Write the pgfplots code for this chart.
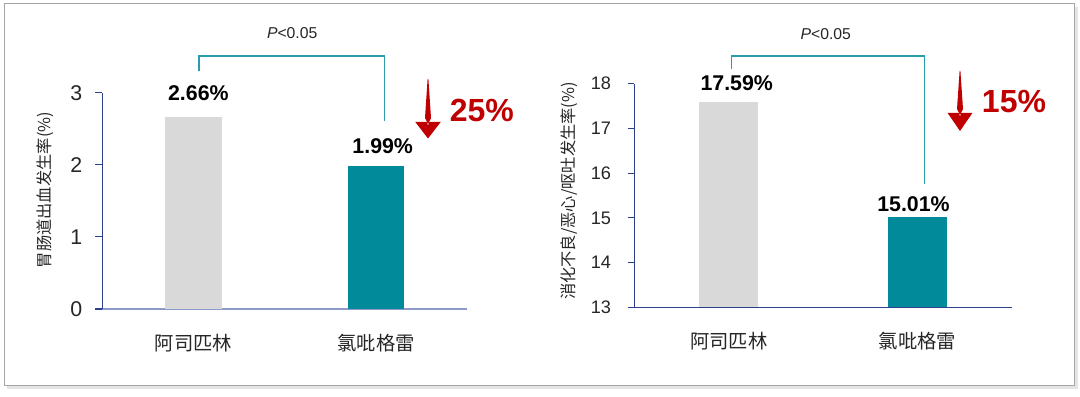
\documentclass[border=0pt]{standalone}
\usepackage{fontspec}
\setmainfont{Liberation Sans}
\newfontfamily\cjk{Noto Sans CJK SC}
\usepackage{pgfplots}
\pgfplotsset{compat=1.18}
\definecolor{barteal}{HTML}{008A9A}
\definecolor{bargray}{HTML}{D9D9D9}
\definecolor{brk}{HTML}{2A9DAA}
\definecolor{redA}{HTML}{C00000}
\definecolor{navyA}{HTML}{2F3F8F}
\definecolor{lavA}{HTML}{8E9AC8}
\definecolor{txt}{HTML}{262626}
\begin{document}
\begin{tikzpicture}[x=0.75pt,y=0.75pt]
\path[use as bounding box] (0,0) rectangle (1080,396);
\begin{scope}[y=-0.75pt, yshift=297pt]
\fill[black!10] (7,7) rectangle (1078,389);
\draw[fill=white, draw=black!35, line width=0.75pt] (4,4) rectangle (1074,385);
\end{scope}

% ---------- panel 1 ----------
\begin{axis}[
  at={(76.725pt,65.25pt)}, anchor=south west,
  scale only axis, width=273.75pt, height=162.2pt,
  xmin=-0.5, xmax=1.5, ymin=0, ymax=3,
  clip=false,
  axis x line*=bottom, axis y line*=left,
  x axis line style={-, draw=lavA, line width=1pt},
  y axis line style={-, draw=navyA, line width=0.8pt},
  xtick={0,1}, xticklabels={阿司匹林,氯吡格雷},
  xtick style={draw=none},
  xticklabel style={font=\cjk\fontsize{14.5}{16}\selectfont, text=txt, yshift=-10pt},
  ytick={0,1,2,3},
  ytick style={draw=navyA, line width=0.8pt},
  tick align=outside, major tick length=5.5pt,
  yticklabel style={font=\fontsize{16}{18}\selectfont, text=txt, xshift=-6pt},
  /pgf/number format/assume math mode=true,
  ylabel={\cjk 胃肠道出血发生率(\%)},
  ylabel style={font=\fontsize{12.2}{14}\selectfont, text=txt, at={(axis description cs:0,0.55)}, anchor=center, yshift=43pt},
  point meta=y,
  nodes near coords={\pgfmathprintnumber[fixed,precision=2,fixed zerofill]{\pgfplotspointmeta}\%},
]
\addplot[ybar, bar shift=0pt, bar width=42.4pt, fill=bargray, draw=none,
  nodes near coords style={font=\bfseries\fontsize{16}{18}\selectfont, text=black, anchor=south, inner sep=0pt, yshift=12.5pt, xshift=3.6pt}]
  coordinates {(0,2.66)};
\addplot[ybar, bar shift=0pt, bar width=42.4pt, fill=barteal, draw=none,
  nodes near coords style={font=\bfseries\fontsize{16}{18}\selectfont, text=black, anchor=south, inner sep=0pt, yshift=9pt, xshift=5pt}]
  coordinates {(1,1.99)};
\end{axis}

% ---------- panel 2 ----------
\begin{axis}[
  at={(475.8pt,66.525pt)}, anchor=south west,
  scale only axis, width=283.05pt, height=167.7pt,
  xmin=-0.5, xmax=1.5, ymin=13, ymax=18,
  axis x line*=bottom, axis y line*=left,
  x axis line style={-, draw=navyA, line width=0.8pt},
  y axis line style={-, draw=navyA, line width=0.8pt},
  xtick={0,1}, xticklabels={阿司匹林,氯吡格雷},
  xtick style={draw=none},
  xticklabel style={font=\cjk\fontsize{14.5}{16}\selectfont, text=txt, yshift=-10pt},
  ytick={13,14,15,16,17,18},
  ytick style={draw=navyA, line width=0.8pt},
  tick align=outside, major tick length=5pt,
  yticklabel style={font=\fontsize{13.6}{16}\selectfont, text=txt, xshift=-9pt},
  /pgf/number format/assume math mode=true,
  ylabel={\cjk 消化不良/恶心/呕吐发生率(\%)},
  ylabel style={font=\fontsize{12.2}{14}\selectfont, text=txt, at={(axis description cs:0,0.52)}, anchor=center, yshift=49pt},
  point meta=y,
  nodes near coords={\pgfmathprintnumber[fixed,precision=2,fixed zerofill]{\pgfplotspointmeta}\%},
]
\addplot[ybar, bar shift=0pt, bar width=44.2pt, fill=bargray, draw=none,
  nodes near coords style={font=\bfseries\fontsize{16}{18}\selectfont, text=black, anchor=south, inner sep=0pt, yshift=8pt, xshift=6pt}]
  coordinates {(0,17.59)};
\addplot[ybar, bar shift=0pt, bar width=44.2pt, fill=barteal, draw=none,
  nodes near coords style={font=\bfseries\fontsize{16}{18}\selectfont, text=black, anchor=south, inner sep=0pt, yshift=4pt, xshift=-3pt}]
  coordinates {(1,15.01)};
\end{axis}

% ---------- annotations ----------
\begin{scope}[y=-0.75pt, yshift=297pt]
\draw[brk, line width=1.2pt] (199,71) -- (199,56) -- (384.6,56) -- (384.6,121);
\node[text=txt, font=\fontsize{11.8}{14}\selectfont] at (292.2,33) {\textit{P}<0.05};
\draw[brk, line width=1.2pt] (731.5,69.3) -- (731.5,56) -- (924.6,56) -- (924.6,184.3);
\node[text=txt, font=\fontsize{11.8}{14}\selectfont] at (825.8,34) {\textit{P}<0.05};

\fill[redA] (427.6,79) -- (428.4,79) -- (431,118) -- (428,124) -- (425,118) -- cycle;
\fill[redA] (415.3,122) -- (427,122) -- (428,126) -- (429,122) -- (440.7,122) -- (428,138.5) -- cycle;
\node[text=redA, font=\bfseries\fontsize{24}{28}\selectfont] at (481.9,110) {25\%};

\fill[redA] (959.6,71) -- (960.4,71) -- (963,109) -- (960,115) -- (957,109) -- cycle;
\fill[redA] (947.6,113) -- (959,113) -- (960,117) -- (961,113) -- (972.4,113) -- (960,131) -- cycle;
\node[text=redA, font=\bfseries\fontsize{24}{28}\selectfont] at (1014,101.7) {15\%};
\end{scope}
\end{tikzpicture}
\end{document}
